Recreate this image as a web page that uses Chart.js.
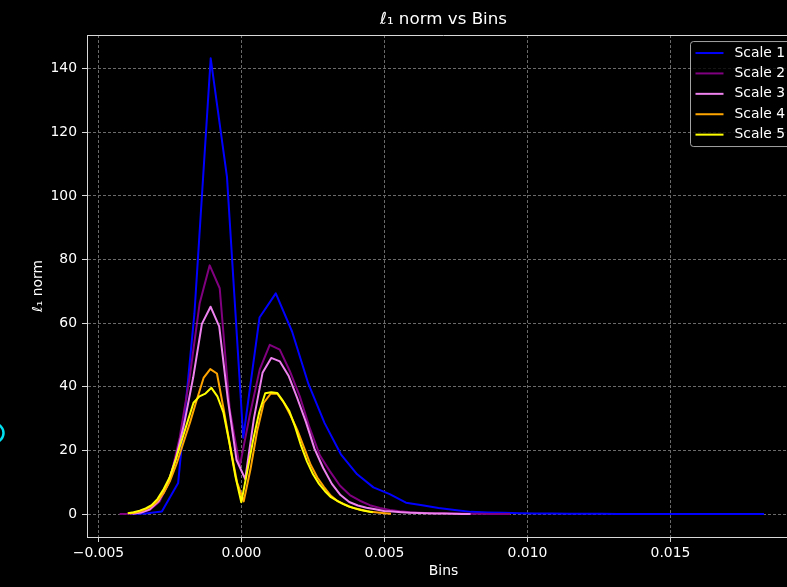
<!DOCTYPE html>
<html>
<head>
<meta charset="utf-8">
<script src="https://cdn.jsdelivr.net/npm/chart.js@4.4.0/dist/chart.umd.min.js"></script>
<style>
  html, body { margin: 0; padding: 0; background: #000; overflow: hidden; }
  #wrap { width: 787px; height: 587px; overflow: hidden; }
</style>
</head>
<body>
<div id="wrap"><canvas id="chart" width="802" height="587"></canvas></div>
<script>
// bin centres and l1 norms per scale
const scaleNames = ['Scale 1', 'Scale 2', 'Scale 3', 'Scale 4', 'Scale 5'];
const scaleColors = ['#0000ff', '#800080', '#ee82ee', '#ffa500', '#ffff00'];

const bins1 = [-0.00392, -0.003351, -0.002782, -0.002213, -0.001644, -0.001075, -0.000506, 0.000063,
  0.000632, 0.001201, 0.00177, 0.002339, 0.002908, 0.003477, 0.004046, 0.004615, 0.005184, 0.005753,
  0.006322, 0.006891, 0.00746, 0.008029, 0.008598, 0.009167, 0.009736, 0.010305, 0.010874, 0.011443,
  0.012012, 0.012581, 0.01315, 0.013719, 0.014288, 0.014857, 0.015426, 0.015995, 0.016564, 0.017133,
  0.017702, 0.018271];
const norm1 = [0, 0.2, 0.8, 9.8, 63, 143.3, 106, 24, 61.8, 69.4, 57.4, 41, 28.6, 18.8, 12.5, 8.4, 6.3, 3.6,
  2.8, 1.9, 1.3, 0.7, 0.5, 0.4, 0.3, 0.2, 0.15, 0.1, 0.1, 0.08, 0.06, 0.05, 0.04, 0.03, 0.02, 0.02,
  0.01, 0.01, 0.01, 0];

const bins2 = [-0.00426, -0.00391, -0.00356, -0.00321, -0.00286, -0.00251, -0.00216, -0.00181, -0.00146,
  -0.00111, -0.00076, -0.00041, -0.00006, 0.00029, 0.00064, 0.00099, 0.00134, 0.00169, 0.00204, 0.00239,
  0.00274, 0.00309, 0.00344, 0.00379, 0.00414, 0.00449, 0.00484, 0.00519, 0.00554, 0.00589, 0.00624,
  0.00659, 0.00694, 0.00729, 0.00764, 0.00799, 0.00834, 0.00869, 0.00904, 0.00939];
const norm2 = [0, 0.1, 0.4, 1.3, 4, 10.5, 24, 43, 66.3, 78.2, 71, 33, 15, 31, 45.5, 53.2, 51.7, 45, 37, 27,
  18.5, 13.5, 9, 6, 4.2, 2.8, 1.9, 1.3, 0.9, 0.6, 0.45, 0.3, 0.25, 0.2, 0.15, 0.1, 0.08, 0.05, 0.03, 0];

const bins3 = [-0.003807, -0.003504, -0.003201, -0.002898, -0.002595, -0.002292, -0.001989, -0.001686,
  -0.001383, -0.00108, -0.000777, -0.000474, -0.000171, 0.000132, 0.000435, 0.000738, 0.001041, 0.001344,
  0.001647, 0.00195, 0.002253, 0.002556, 0.002859, 0.003162, 0.003465, 0.003768, 0.004071, 0.004374,
  0.004677, 0.00498, 0.005283, 0.005586, 0.005889, 0.006192, 0.006495, 0.006798, 0.007101, 0.007404,
  0.007707, 0.00801];
const norm3 = [0.1, 0.5, 1.5, 4, 9, 17.5, 29, 43, 59.8, 65.2, 59, 36, 17, 11, 30, 44.4, 49.1, 48, 43.5, 36.5,
  29, 20.5, 14.5, 9.5, 6, 3.8, 2.7, 2.0, 1.5, 1.0, 0.8, 0.6, 0.45, 0.35, 0.25, 0.2, 0.15, 0.1, 0.05, 0];

const bins4 = [-0.003898, -0.003664, -0.00343, -0.003196, -0.002962, -0.002728, -0.002494, -0.00226,
  -0.002026, -0.001792, -0.001558, -0.001324, -0.00109, -0.000856, -0.000622, -0.000388, -0.000154,
  0.00008, 0.000314, 0.000548, 0.000782, 0.001016, 0.00125, 0.001484, 0.001718, 0.001952, 0.002186,
  0.00242, 0.002654, 0.002888, 0.003122, 0.003356, 0.00359, 0.003824, 0.004058, 0.004292, 0.004526,
  0.00476, 0.004994, 0.005228];
const norm4 = [0.2, 0.6, 1.2, 2.2, 3.8, 6.5, 10.5, 16, 22.5, 29, 36, 42.8, 45.6, 44.2, 33, 21, 10, 4, 14, 26,
  35, 37.8, 37.9, 35, 31, 26.5, 21, 15.5, 11.5, 8.5, 5.8, 4.1, 3.1, 2.2, 1.6, 1.1, 0.7, 0.5, 0.3, 0.1];

const bins5 = [-0.003976, -0.003767, -0.003558, -0.003349, -0.00314, -0.002931, -0.002722, -0.002513,
  -0.002304, -0.002095, -0.001886, -0.001677, -0.001468, -0.001259, -0.00105, -0.000841, -0.000632,
  -0.000423, -0.000214, -0.000005, 0.000204, 0.000413, 0.000622, 0.000831, 0.00104, 0.001249, 0.001458,
  0.001667, 0.001876, 0.002085, 0.002294, 0.002503, 0.002712, 0.002921, 0.00313, 0.003339, 0.003548,
  0.003757, 0.003966, 0.004175, 0.004384, 0.004593];
const norm5 = [0.3, 0.6, 1.1, 1.8, 2.8, 4.8, 7.8, 11.5, 17, 23, 29, 35, 37, 37.9, 39.7, 37, 32, 22.5, 12, 3.7,
  13.5, 23.5, 32, 38, 38.3, 38.1, 35.5, 32.5, 27.5, 21.5, 16.5, 12.5, 9.5, 7.2, 5.3, 4.2, 3.2, 2.4, 1.8,
  1.3, 0.9, 0.6];

const allBins = [bins1, bins2, bins3, bins4, bins5];
const allNorms = [norm1, norm2, norm3, norm4, norm5];

const FONT = 'DejaVu Sans';
const TEXT = '#ffffff';
const GRID = '#6a6a6a';
const SPINE = '#d8d8d8';

Chart.defaults.color = TEXT;
Chart.defaults.font.family = FONT;

const datasets = scaleNames.map((name, i) => ({
  label: name,
  data: allBins[i].map((x, j) => ({ x, y: allNorms[i][j] })),
  borderColor: scaleColors[i],
  backgroundColor: scaleColors[i],
  borderWidth: 2,
  pointRadius: 0,
  tension: 0,
  fill: false,
  borderJoinStyle: 'round',
  order: scaleNames.length - i,   // later scales drawn on top
}));

// matplotlib-style frame, legend box inside the axes, and the stray cyan ring at the left edge
const decorations = {
  id: 'decorations',
  afterDraw(chart) {
    const { ctx, chartArea: a } = chart;
    ctx.save();
    ctx.strokeStyle = SPINE;
    ctx.lineWidth = 1;
    ctx.beginPath();
    ctx.moveTo(Math.round(a.left) + 0.5, Math.round(a.top) + 0.5);
    ctx.lineTo(Math.round(a.right) - 0.5, Math.round(a.top) + 0.5);
    ctx.lineTo(Math.round(a.right) - 0.5, Math.round(a.bottom) + 0.5);
    ctx.stroke();

    // legend
    const boxL = a.right - 109.5, boxT = a.top + 6.5, boxW = 102.5, boxH = 105;
    ctx.fillStyle = 'rgba(0,0,0,0.8)';
    ctx.strokeStyle = 'rgba(204,204,204,0.8)';
    ctx.beginPath();
    ctx.roundRect(boxL, boxT, boxW, boxH, 3);
    ctx.fill();
    ctx.stroke();
    ctx.font = '13.9px "' + FONT + '"';
    ctx.textBaseline = 'middle';
    ctx.textAlign = 'left';
    chart.data.datasets.forEach((ds, i) => {
      const y = boxT + 11.5 + i * 20.4;
      ctx.strokeStyle = ds.borderColor;
      ctx.lineWidth = 2;
      ctx.beginPath();
      ctx.moveTo(boxL + 5, y);
      ctx.lineTo(boxL + 33, y);
      ctx.stroke();
      ctx.fillStyle = TEXT;
      ctx.fillText(ds.label, boxL + 44, y);
    });

    ctx.strokeStyle = '#00e0f0';
    ctx.lineWidth = 2.5;
    ctx.beginPath();
    ctx.arc(-6, 433, 9.5, 0, Math.PI * 2);
    ctx.stroke();
    ctx.restore();
  }
};

new Chart(document.getElementById('chart'), {
  type: 'line',
  data: { datasets },
  plugins: [decorations],
  options: {
    responsive: false,
    devicePixelRatio: 1,
    animation: false,
    layout: { padding: { left: 0, right: 2, top: 0, bottom: 0 } },
    plugins: {
      legend: { display: false },
      tooltip: { enabled: false },
      title: {
        display: true,
        text: 'ℓ₁ norm vs Bins',
        color: TEXT,
        fullSize: false,
        font: { family: FONT, size: 16.7, weight: 'normal' },
        padding: { top: 10, bottom: 5 },
      },
    },
    scales: {
      x: {
        type: 'linear',
        min: -0.0054,
        max: 0.01953,
        afterFit: (scale) => { scale.height = 50; },
        ticks: {
          stepSize: 0.005,
          includeBounds: false,
          autoSkip: false,
          maxRotation: 0,
          color: TEXT,
          padding: 3,
          font: { family: FONT, size: 13.9 },
          callback: (v) => (v < 0 ? '\u2212' : '') + Math.abs(v).toFixed(3),
        },
        grid: { color: GRID, lineWidth: 1, tickLength: 5, tickColor: SPINE, tickWidth: 1 },
        border: { color: SPINE, width: 1, dash: [3, 2] },
        title: {
          display: true,
          text: 'Bins',
          color: TEXT,
          font: { family: FONT, size: 13.9 },
          padding: { top: 0, bottom: 7 },
        },
      },
      y: {
        type: 'linear',
        min: -7.2,
        max: 150.6,
        afterFit: (scale) => { scale.width = 87; },
        ticks: {
          stepSize: 20,
          includeBounds: false,
          color: TEXT,
          padding: 5,
          font: { family: FONT, size: 13.9 },
        },
        grid: { color: GRID, lineWidth: 1, tickLength: 5, tickColor: SPINE, tickWidth: 1 },
        border: { color: SPINE, width: 1, dash: [3, 2] },
        title: {
          display: true,
          text: 'ℓ₁ norm',
          color: TEXT,
          font: { family: FONT, size: 13.9 },
          padding: { top: 29.6, bottom: 0 },
        },
      },
    },
  },
});
</script>
</body>
</html>
